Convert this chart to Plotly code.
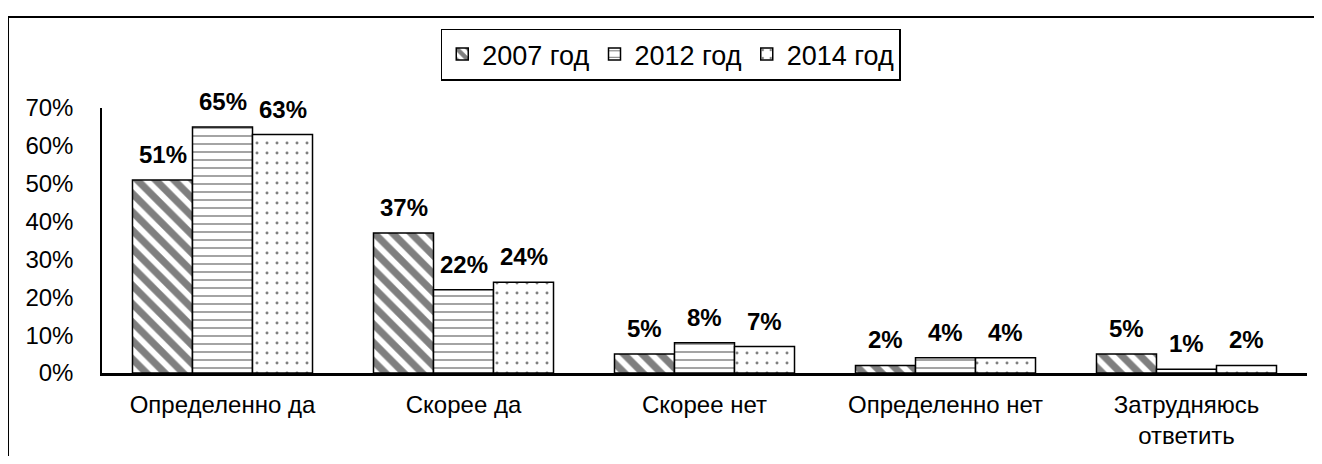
import plotly.graph_objects as go

categories = ["Определенно да", "Скорее да", "Скорее нет", "Определенно нет", "Затрудняюсь<br>ответить"]
series_names = ["2007 год", "2012 год", "2014 год"]
v2007 = [51, 37, 5, 2, 5]
v2012 = [65, 22, 8, 4, 1]
v2014 = [63, 24, 7, 4, 2]
y_ticks = [0, 10, 20, 30, 40, 50, 60, 70]

values = [v2007, v2012, v2014]
patterns = [
    dict(shape="\\", size=13, solidity=0.55, fgcolor="black", bgcolor="white"),
    dict(shape="-", size=8, solidity=0.15, fgcolor="black", bgcolor="white", fgopacity=0.6),
    dict(shape=".", size=10, solidity=0.07, fgcolor="black", bgcolor="white"),
]

FONT = "Liberation Sans, Arial, sans-serif"
fig = go.Figure()
for name, vals, pat in zip(series_names, values, patterns):
    fig.add_trace(go.Bar(
        x=categories, y=vals, name=name,
        marker=dict(color="white", pattern=pat, line=dict(color="black", width=1.5)),
        cliponaxis=False,
    ))

bar_px = 60
for i, vals in enumerate(values):
    for c, v in zip(categories, vals):
        fig.add_annotation(x=c, y=v, text=f"<b>{v}%</b>", showarrow=False,
                           xref="x", yref="y", yanchor="bottom",
                           xshift=(i - 1) * bar_px, yshift=10,
                           font=dict(family=FONT, size=24, color="black"))

fig.add_shape(type="rect", xref="paper", yref="paper",
              x0=-0.078, x1=1.05, y0=-0.4, y1=1.343,
              line=dict(color="black", width=2), fillcolor="rgba(0,0,0,0)")

fig.update_layout(
    width=1306, height=448,
    margin=dict(l=94, r=7, t=100, b=75),
    paper_bgcolor="white", plot_bgcolor="white",
    barmode="group", bargap=0.253, bargroupgap=0,
    font=dict(family=FONT, color="black"),
    showlegend=True,
    legend=dict(orientation="h", x=0.472, xanchor="center", y=1.3, yanchor="top",
                bordercolor="black", borderwidth=1.5, bgcolor="white",
                font=dict(family=FONT, size=27, color="black"),
                itemwidth=30, traceorder="normal"),
)
fig.update_xaxes(showline=True, linecolor="black", linewidth=2.5, ticks="",
                 tickfont=dict(family=FONT, size=24, color="black"),
                 ticklabelstandoff=8, showgrid=False)
fig.update_yaxes(range=[0, 70], tickvals=y_ticks, ticktext=[f"{t}%" for t in y_ticks],
                 showline=True, linecolor="black", linewidth=1.5, ticks="",
                 tickfont=dict(family=FONT, size=24, color="black"),
                 ticklabelstandoff=22, showgrid=False, zeroline=False)

fig.write_html("out.html")
